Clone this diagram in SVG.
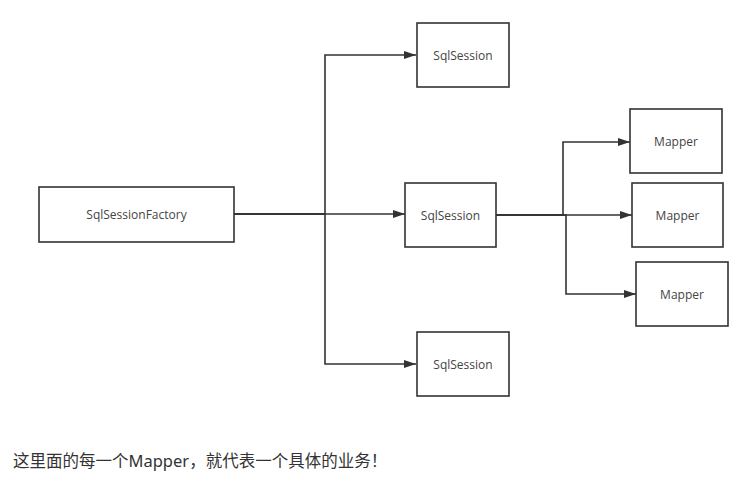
<svg xmlns="http://www.w3.org/2000/svg" width="738" height="504" viewBox="0 0 738 504">
<style>
.box{fill:#fff;stroke:#333;stroke-width:1.6}
.lbl{font-family:"Open Sans","Noto Sans",sans-serif;font-size:12px;fill:#444;text-anchor:middle;dominant-baseline:central}
.edge{fill:none;stroke:#333;stroke-width:1.6}
.note{font-family:"Noto Sans","Noto Sans CJK SC",sans-serif;font-size:16.5px;fill:#333}
</style>
<defs>
<marker id="arr" viewBox="0 0 12 8" refX="12" refY="4" markerWidth="12" markerHeight="8" markerUnits="userSpaceOnUse" orient="auto">
<path d="M0,0 L12,4 L0,8 Z" fill="#333"/>
</marker>
</defs>
<rect width="738" height="504" fill="#fff"/>
<g id="connectors">
<path class="edge" d="M234,214 H325 V55 H416" marker-end="url(#arr)"/>
<path class="edge" d="M234,214 H405" marker-end="url(#arr)"/>
<path class="edge" d="M234,214 H325 V364 H416" marker-end="url(#arr)"/>
<path class="edge" d="M496,215 H563 V142 H630" marker-end="url(#arr)"/>
<path class="edge" d="M496,215 H632" marker-end="url(#arr)"/>
<path class="edge" d="M496,215 H566 V294 H636" marker-end="url(#arr)"/>
</g>
<g id="factory"><rect class="box" x="39" y="187" width="195" height="55"/><text class="lbl" x="136.5" y="214.5">SqlSessionFactory</text></g>
<g id="session-top"><rect class="box" x="417" y="23" width="92" height="64"/><text class="lbl" x="463" y="55">SqlSession</text></g>
<g id="session-mid"><rect class="box" x="405" y="183" width="91" height="64"/><text class="lbl" x="450.5" y="215">SqlSession</text></g>
<g id="session-bot"><rect class="box" x="417" y="332" width="92" height="64"/><text class="lbl" x="463" y="364">SqlSession</text></g>
<g id="mapper-1"><rect class="box" x="630" y="109" width="92" height="64"/><text class="lbl" x="676" y="141">Mapper</text></g>
<g id="mapper-2"><rect class="box" x="632" y="183" width="91" height="64"/><text class="lbl" x="677.5" y="215">Mapper</text></g>
<g id="mapper-3"><rect class="box" x="636" y="262" width="92" height="64"/><text class="lbl" x="682" y="294">Mapper</text></g>
<text class="note" x="13" y="467">这里面的每一个Mapper，就代表一个具体的业务！</text>
</svg>
